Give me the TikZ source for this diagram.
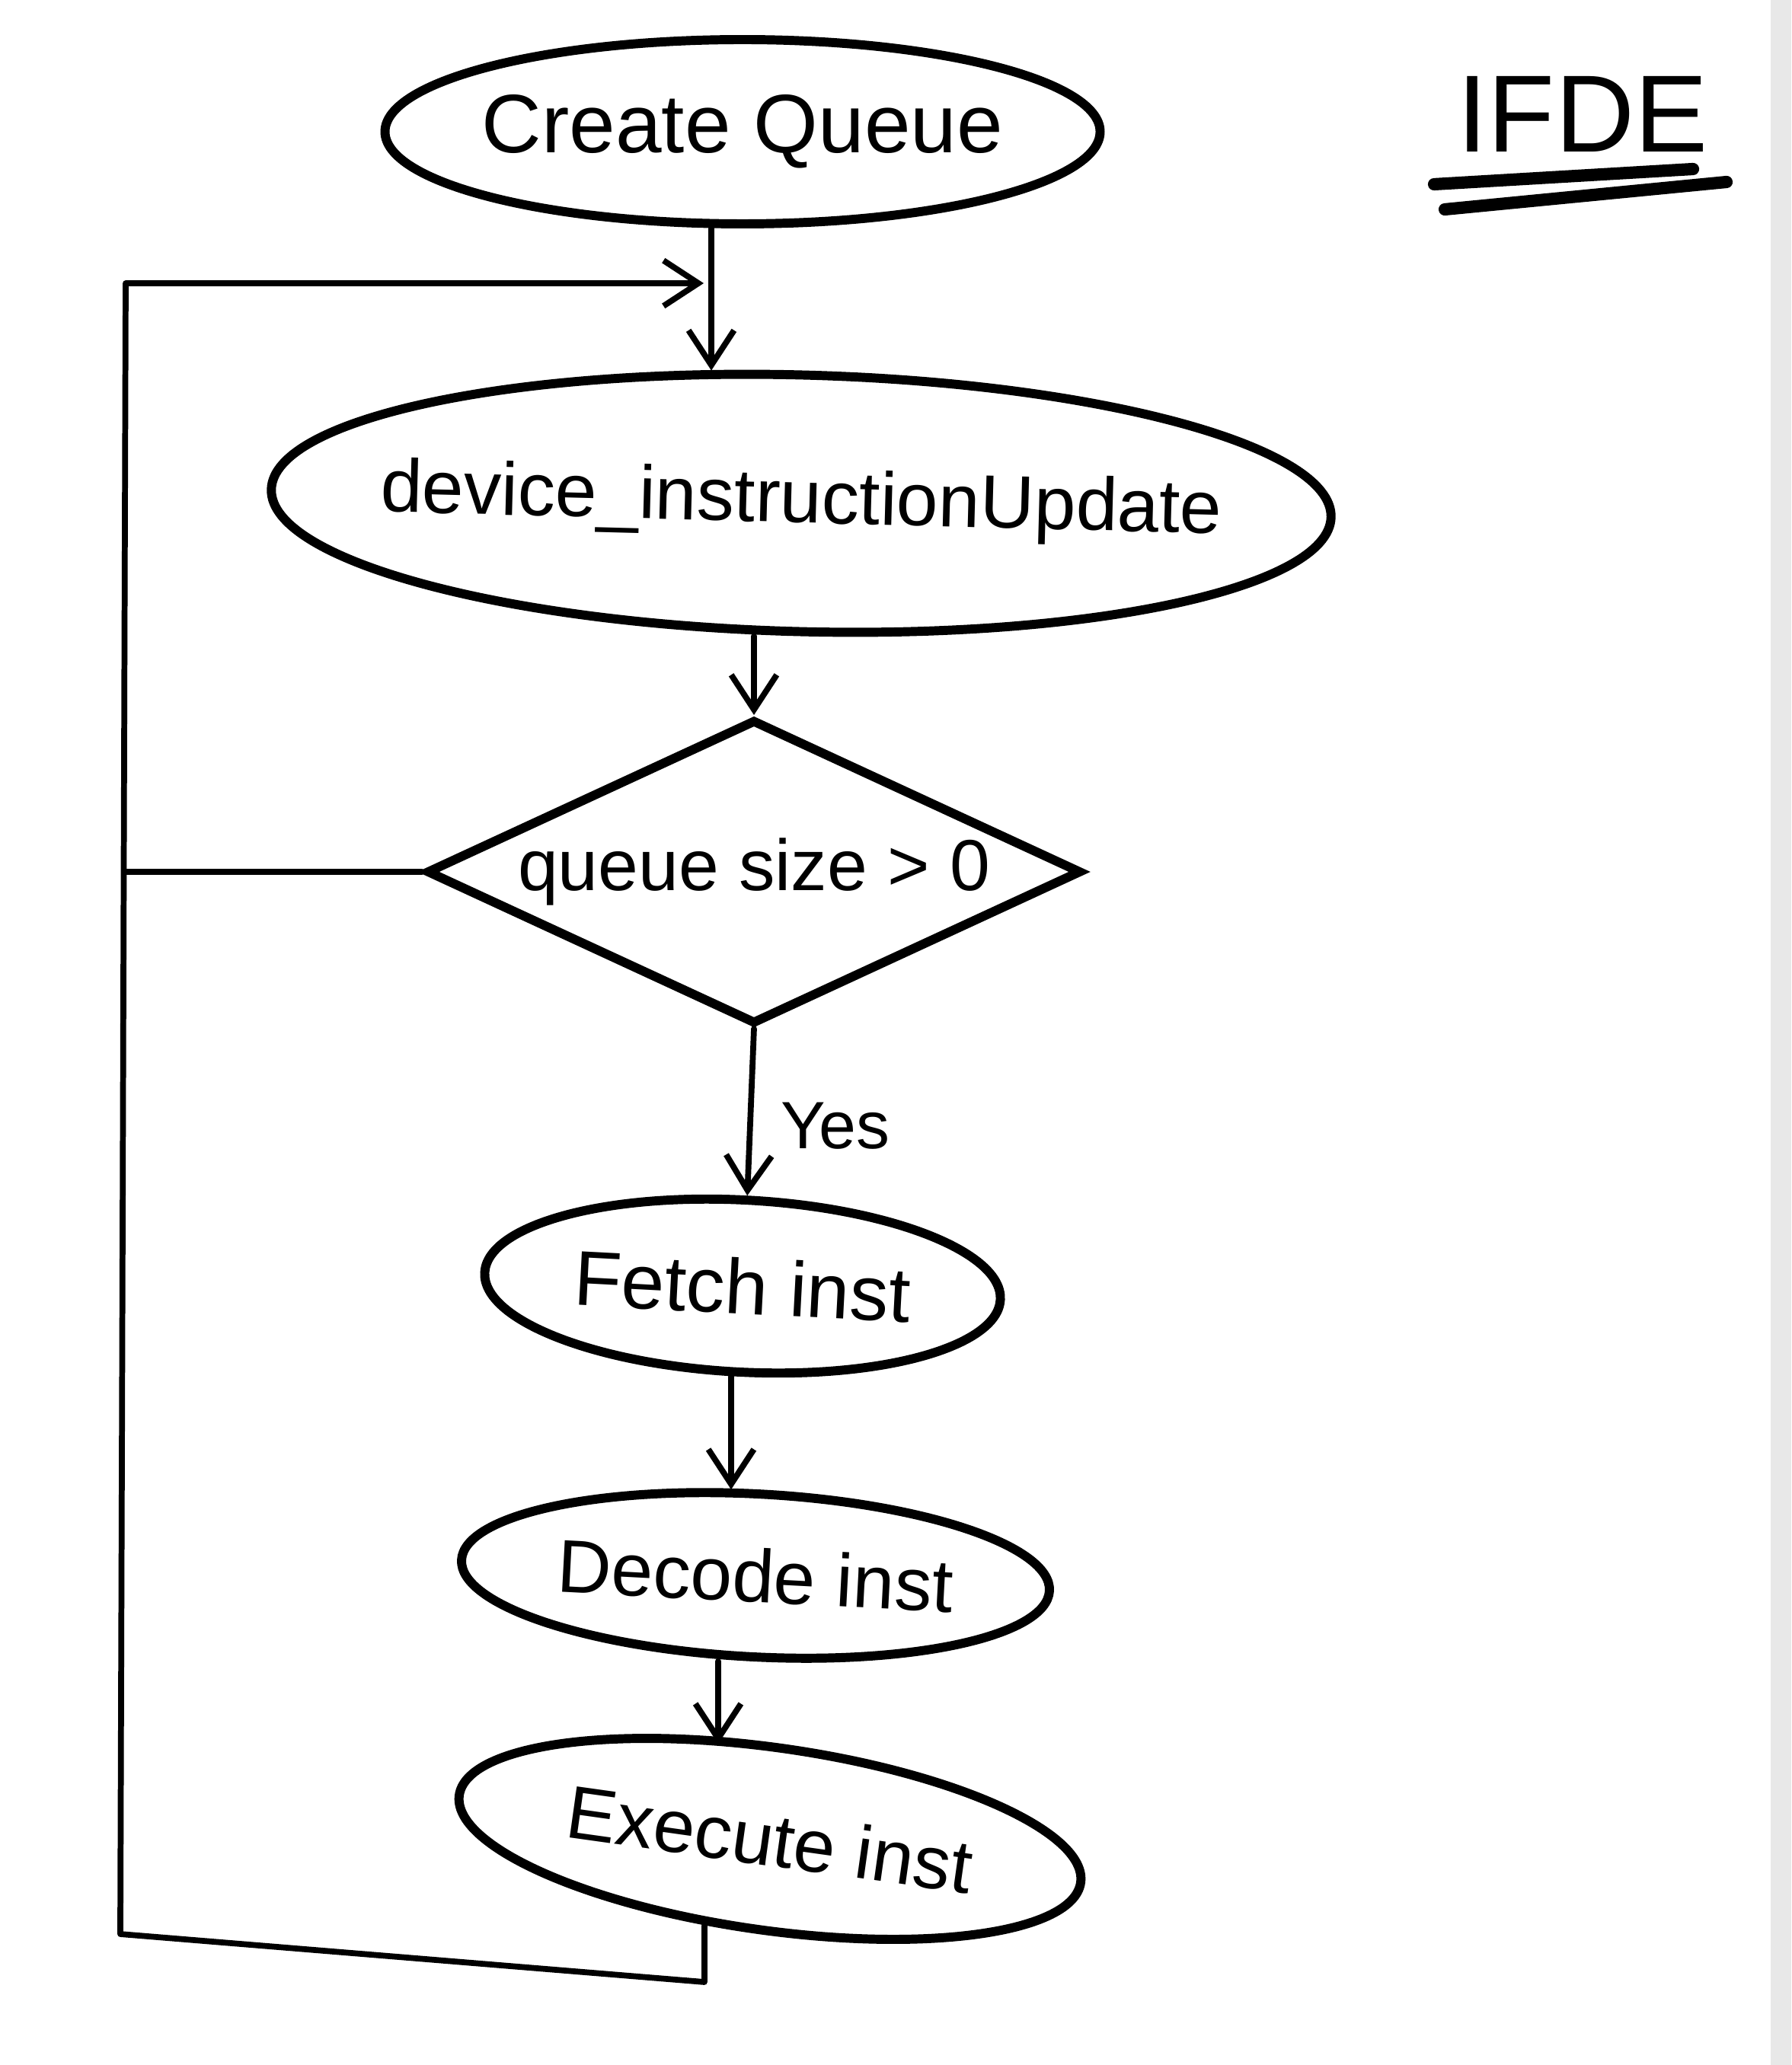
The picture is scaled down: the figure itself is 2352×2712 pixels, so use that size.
\documentclass[tikz,border=0pt]{standalone}
\usepackage{fontspec}
\setmainfont{Liberation Sans}
\usetikzlibrary{shapes.geometric,arrows.meta}
\begin{document}
\begin{tikzpicture}[x=0.1mm,y=-0.1mm,
  shapeline/.style={draw=black, line width=3.4pt},
  term/.style={shapeline, ellipse, inner sep=-2mm, align=center},
  dec/.style={shapeline, diamond, inner sep=0pt, aspect=2.18},
  conn/.style={draw=black, line width=2.2pt, line cap=round, line join=round},
  arr/.style={conn, -{Straight Barb[length=13pt,width=17pt,line width=2.2pt]}},
  lbl/.style={inner sep=0pt}
]
\useasboundingbox (0,0) rectangle (2352,2712);
\fill[white] (0,0) rectangle (2352,2712);
\fill[gray!18] (2325,0) rectangle (2352,2712);

% nodes
\node[term, minimum width=93.9mm, minimum height=24.2mm,
      font=\fontsize{31}{37}\selectfont] (create) at (975,173) {Create Queue};
\node[term, inner sep=-6.5mm, minimum width=139.2mm, minimum height=33.7mm, rotate=-1.5,
      font=\fontsize{28}{34}\selectfont] (device) at (1052,661) {device\_instructionUpdate};
\node[dec, minimum width=86mm, minimum height=40mm,
      font=\fontsize{27}{32}\selectfont] (size) at (990,1145) {queue size > 0};
\node[term, minimum width=67.8mm, minimum height=22.6mm, rotate=-3,
      font=\fontsize{29}{35}\selectfont] (fetch) at (975,1689) {Fetch inst};
\node[term, minimum width=77.3mm, minimum height=21.4mm, rotate=-3,
      font=\fontsize{28}{34}\selectfont] (decode) at (992,2069) {Decode inst};
\node[term, minimum width=82.4mm, minimum height=24mm, rotate=-8,
      font=\fontsize{28}{34}\selectfont] (execute) at (1011,2415) {Execute inst};

\node[lbl, font=\fontsize{25}{30}\selectfont] (yes) at (1097,1479) {Yes};
\node[lbl, font=\fontsize{41}{48}\selectfont] (title) at (2078,150) {IFDE};
\draw[line width=4.6pt, line cap=round] (1883,242) -- (2223,222);
\draw[line width=4.6pt, line cap=round] (1897,275) -- (2267,239);

% helper coordinates
\coordinate (xa) at (934,0);
\coordinate (xc) at (960,0);
\coordinate (xd) at (943,0);
\coordinate (xr) at (925,0);
\coordinate (lb1) at (925,2603);
\coordinate (lb2) at (158,2540);
\coordinate (lt) at (165,372);
\coordinate (ltend) at (924,372);

% connectors
\draw[arr] (create.south -| xa) -- (device.north -| xa);
\draw[arr] (size.north |- device.south) -- (size.north);
\draw[arr] (size.south) -- (fetch.north);
\draw[arr] (fetch.south -| xc) -- (decode.north -| xc);
\draw[arr] (decode.south -| xd) -- (execute.north -| xd);
\draw[arr] ([yshift=1.1mm]execute.south -| xr) -- (lb1) -- (lb2) -- (lt) -- (ltend);
\draw[conn] (size.west) -- (size.west -| lt);
\end{tikzpicture}
\end{document}
